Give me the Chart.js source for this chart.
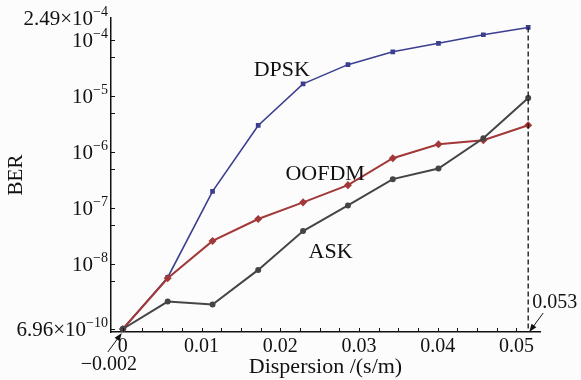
<!DOCTYPE html>
<html>
<head>
<meta charset="utf-8">
<title>BER vs Dispersion</title>
<script src="https://cdn.jsdelivr.net/npm/chart.js@4.4.1/dist/chart.umd.min.js"></script>
<style>
    html, body { margin: 0; padding: 0; background: #fcfcfc; }
    #wrap { width: 581px; height: 380px; position: relative; }
</style>
</head>
<body>
<div id="wrap"><canvas id="myChart"></canvas></div>
<script>
// Dispersion values (s/m) of the measured points
const dispersion = [0, 0.0057, 0.0114, 0.0172, 0.0229, 0.0286, 0.0343, 0.0401, 0.0458, 0.0515];

// BER for each format
const berDPSK  = [6.96e-10, 5.8e-9, 2.0e-7, 3.0e-6, 1.66e-5, 3.66e-5, 6.2e-5, 8.8e-5, 1.25e-4, 1.69e-4];
const berOOFDM = [6.96e-10, 5.6e-9, 2.6e-8, 6.4e-8, 1.27e-7, 2.58e-7, 7.8e-7, 1.38e-6, 1.63e-6, 3.03e-6];
const berASK   = [6.96e-10, 2.15e-9, 1.91e-9, 7.9e-9, 3.9e-8, 1.12e-7, 3.3e-7, 5.1e-7, 1.77e-6, 9.3e-6];

const seriesNames = ['DPSK', 'OOFDM', 'ASK'];

// axis ticks
const xTicks = [0, 0.01, 0.02, 0.03, 0.04, 0.05];
const xTickLabels = ['0', '0.01', '0.02', '0.03', '0.04', '0.05'];
const xMinorTicks = [0.0025, 0.005, 0.0075, 0.0125, 0.015, 0.0175, 0.0225, 0.025, 0.0275,
                     0.0325, 0.035, 0.0375, 0.0425, 0.045, 0.0475];
const yTicks = [6.96e-10, 1e-8, 1e-7, 1e-6, 1e-5, 1e-4, 2.49e-4];
const yTickBase = ['6.96×10', '10', '10', '10', '10', '10', '2.49×10'];
const yTickExp  = ['−10', '−8', '−7', '−6', '−5', '−4', '−4'];
const yMinorTicks = [5e-9, 5e-8, 5e-7, 5e-6, 5e-5];

// range notes written on the axes
const xRangeLabels = ['−0.002', '0.053'];

const xMin = -0.0015, xMax = 0.053;
const yMin = 6.15e-10, yMax = 2.49e-4;

const serif = "'Liberation Serif', 'Times New Roman', serif";
const ink = '#111';

function points(ys) {
    return dispersion.map((x, i) => ({ x: x, y: ys[i] }));
}

function arrow(ctx, x0, y0, x1, y1) {
    const a = Math.atan2(y1 - y0, x1 - x0);
    ctx.beginPath();
    ctx.moveTo(x0, y0);
    ctx.lineTo(x1 - 5 * Math.cos(a), y1 - 5 * Math.sin(a));
    ctx.stroke();
    ctx.beginPath();
    ctx.moveTo(x1, y1);
    ctx.lineTo(x1 - 8 * Math.cos(a) + 3 * Math.sin(a), y1 - 8 * Math.sin(a) - 3 * Math.cos(a));
    ctx.lineTo(x1 - 8 * Math.cos(a) - 3 * Math.sin(a), y1 - 8 * Math.sin(a) + 3 * Math.cos(a));
    ctx.closePath();
    ctx.fill();
}

// ticks pointing inward, y labels with exponents, curve names and range notes
const decorations = {
    id: 'decorations',
    afterDraw(chart) {
        const ctx = chart.ctx;
        const xs = chart.scales.x, ys = chart.scales.y;
        const area = chart.chartArea;
        ctx.save();
        ctx.strokeStyle = ink;
        ctx.fillStyle = ink;
        ctx.lineWidth = 1;

        // x ticks
        xTicks.concat(xMinorTicks).forEach(v => {
            const px = Math.round(xs.getPixelForValue(v)) + 0.5;
            ctx.beginPath();
            ctx.moveTo(px, area.bottom);
            ctx.lineTo(px, area.bottom - 4);
            ctx.stroke();
        });
        // y ticks
        yTicks.slice(0, -1).concat(yMinorTicks).forEach(v => {
            const py = Math.round(ys.getPixelForValue(v)) + 0.5;
            ctx.beginPath();
            ctx.moveTo(area.left, py);
            ctx.lineTo(area.left + 4, py);
            ctx.stroke();
        });

        // y labels: base + superscript
        ctx.textBaseline = 'middle';
        yTicks.forEach((v, i) => {
            const py = ys.getPixelForValue(v);
            const right = area.left - 3;
            ctx.font = '14px ' + serif;
            ctx.textAlign = 'right';
            const w = ctx.measureText(yTickExp[i]).width;
            ctx.fillText(yTickExp[i], right, py - 6);
            ctx.font = '21px ' + serif;
            ctx.fillText(yTickBase[i], right - w, py + 1);
        });

        // curve names
        ctx.font = '22px ' + serif;
        ctx.textAlign = 'center';
        const tagAt = [[0.0202, 2.9e-5], [0.0257, 4.1e-7], [0.0264, 1.65e-8]];
        seriesNames.forEach((name, i) => {
            ctx.fillText(name, xs.getPixelForValue(tagAt[i][0]), ys.getPixelForValue(tagAt[i][1]));
        });

        // range notes with arrows
        ctx.font = '20px ' + serif;
        const tip0x = xs.getPixelForValue(0) - 1, tipY = area.bottom + 1;
        arrow(ctx, tip0x - 14, tipY + 19, tip0x, tipY);
        ctx.textAlign = 'center';
        ctx.fillText(xRangeLabels[0], tip0x - 13, tipY + 32);

        const tip1x = xs.getPixelForValue(dispersion[dispersion.length - 1]);
        arrow(ctx, tip1x + 15, area.bottom - 19, tip1x + 1, area.bottom);
        ctx.textAlign = 'left';
        ctx.fillText(xRangeLabels[1], tip1x + 4, area.bottom - 29);
        ctx.restore();
    }
};

const last = dispersion.length - 1;
const ctx = document.getElementById('myChart').getContext('2d');
const chart = new Chart(ctx, {
    type: 'line',
    data: {
        datasets: [
            {
                label: 'marker',
                data: [{ x: dispersion[last], y: berDPSK[last] }, { x: dispersion[last], y: yMin }],
                borderColor: ink,
                borderWidth: 1.3,
                borderDash: [5, 3],
                pointRadius: 0
            },
            {
                label: seriesNames[2],
                data: points(berASK),
                borderColor: '#454545',
                backgroundColor: '#454545',
                borderWidth: 2,
                pointStyle: 'circle',
                pointRadius: 2
            },
            {
                label: seriesNames[1],
                data: points(berOOFDM),
                borderColor: '#a23838',
                backgroundColor: '#a23838',
                borderWidth: 2,
                pointStyle: 'rectRot',
                pointRadius: 2.6
            },
            {
                label: seriesNames[0],
                data: points(berDPSK),
                borderColor: '#3c3f8f',
                backgroundColor: '#3c3f8f',
                borderWidth: 1.6,
                pointStyle: 'rect',
                pointRadius: 2.2
            }
        ]
    },
    options: {
        responsive: true,
        maintainAspectRatio: false,
        animation: false,
        devicePixelRatio: 1,
        layout: { padding: { left: 0, right: 41, top: 18, bottom: 0 } },
        plugins: {
            legend: { display: false },
            tooltip: { enabled: false }
        },
        elements: { line: { tension: 0 } },
        scales: {
            x: {
                type: 'linear',
                min: xMin,
                max: xMax,
                afterBuildTicks: scale => {
                    scale.ticks = xTicks.map(v => ({ value: v }));
                },
                afterFit: scale => { scale.height = 48; },
                ticks: {
                    color: ink,
                    font: { family: serif, size: 20 },
                    padding: 3,
                    maxRotation: 0,
                    callback: (value, index) => xTickLabels[index]
                },
                grid: { display: false, drawTicks: false },
                border: { color: ink, width: 1.5 },
                title: {
                    display: true,
                    text: 'Dispersion /(s/m)',
                    color: ink,
                    font: { family: serif, size: 22 },
                    padding: { top: 0, bottom: 0 }
                }
            },
            y: {
                type: 'logarithmic',
                min: yMin,
                max: yMax,
                afterFit: scale => { scale.width = 111; },
                ticks: { display: false },
                grid: { display: false, drawTicks: false },
                border: { color: ink, width: 1.5 },
                title: {
                    display: true,
                    text: 'BER',
                    color: ink,
                    font: { family: serif, size: 21 },
                    padding: { top: 4, bottom: 4 }
                }
            }
        }
    },
    plugins: [decorations]
});
</script>
</body>
</html>
